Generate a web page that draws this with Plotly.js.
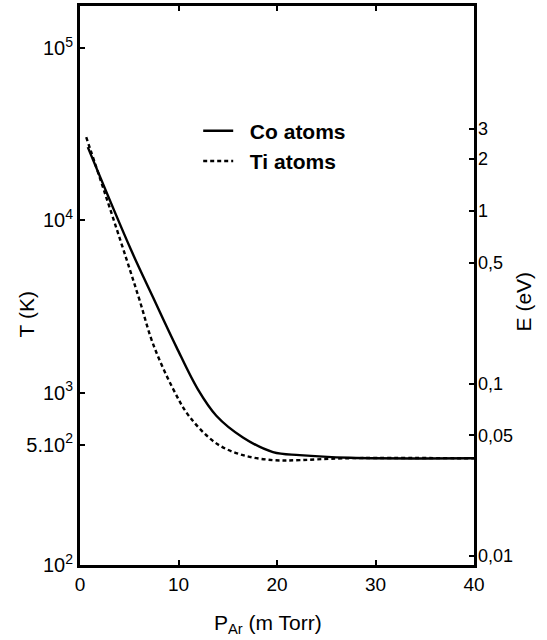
<!DOCTYPE html>
<html>
<head>
<meta charset="utf-8">
<script src="https://cdn.plot.ly/plotly-3.0.1.min.js"></script>
<style>html,body{margin:0;padding:0;background:#fff;}#chart{width:547px;height:640px;}</style>
</head>
<body>
<div id="chart"></div>
<script>
// Pressure (mTorr) and temperature (K)
const coP = [0.79, 5.2, 7.4, 9.78, 11.97, 13.84, 16.54, 19.59, 22.3, 27.39, 40];
const coT = [26600, 6700, 3590, 1845, 1045, 735, 550, 452, 434, 419, 416];
const tiP = [0.63, 2.49, 4.7, 6.05, 7.4, 9.43, 11.13, 13.84, 16.54, 19.59, 22.3, 26.71, 40];
const tiT = [30400, 14600, 6000, 3440, 1930, 1057, 724, 508, 434, 406, 406, 416, 416];

const xTicks = [0, 10, 20, 30, 40];
const tTickVals = [100, 500, 1000, 10000, 100000];
const tTickText = ['10<sup>2</sup>', '5.10<sup>2</sup>', '10<sup>3</sup>', '10<sup>4</sup>', '10<sup>5</sup>'];
const eTickVals = [0.01, 0.05, 0.1, 0.5, 1, 2, 3];
const eTickText = ['0,01', '0,05', '0,1', '0,5', '1', '2', '3'];
const seriesNames = ['Co atoms', 'Ti atoms'];

const FONT = 'Liberation Sans, Arial, sans-serif';

const traces = [
  {x: coP, y: coT, mode: 'lines', name: '\u00a0\u00a0' + seriesNames[0],
   line: {color: '#000', width: 2.4, shape: 'spline', smoothing: 1.0}},
  {x: tiP, y: tiT, mode: 'lines', name: '\u00a0\u00a0' + seriesNames[1],
   line: {color: '#000', width: 2.4, dash: '4px,3px', shape: 'spline', smoothing: 1.0}}
];

const layout = {
  width: 547, height: 640,
  margin: {l: 80, r: 73, t: 6, b: 75},
  paper_bgcolor: '#fff', plot_bgcolor: '#fff',
  font: {family: FONT, color: '#000'},
  showlegend: true,
  legend: {x: 0.30, y: 0.813, xanchor: 'left', yanchor: 'top',
           bgcolor: 'rgba(0,0,0,0)', itemwidth: 30,
           font: {size: 21, weight: 'bold', family: FONT}},
  xaxis: {range: [0, 40], tickvals: xTicks, ticktext: xTicks.map(String),
          ticks: 'inside', ticklen: 5, tickwidth: 2, tickcolor: '#000',
          showline: true, linewidth: 3, linecolor: '#000', mirror: 'ticks',
          showgrid: false, zeroline: false,
          tickfont: {size: 19, family: FONT}},
  yaxis: {type: 'log', range: [2, 5.244], tickvals: tTickVals, ticktext: tTickText,
          ticks: 'inside', ticklen: 5, tickwidth: 2, tickcolor: '#000',
          showline: true, linewidth: 3, linecolor: '#000',
          showgrid: false, zeroline: false, ticklabelstandoff: 0,
          tickfont: {size: 20, family: FONT}},
  yaxis2: {type: 'log', overlaying: 'y', side: 'right', range: [-2.052, 1.188],
           tickvals: eTickVals, ticktext: eTickText,
           ticks: 'inside', ticklen: 5, tickwidth: 2, tickcolor: '#000',
           showline: true, linewidth: 2.5, linecolor: '#000',
           showgrid: false, zeroline: false, ticklabelstandoff: -2,
           tickfont: {size: 18, family: FONT}},
  annotations: [
    {text: 'T (K)', xref: 'paper', yref: 'paper', x: -0.135, y: 0.448,
     xanchor: 'center', yanchor: 'middle',
     textangle: -90, showarrow: false, font: {size: 21, family: FONT}},
    {text: 'E (eV)', xref: 'paper', yref: 'paper', x: 1.125, y: 0.472,
     xanchor: 'center', yanchor: 'middle',
     textangle: -90, showarrow: false, font: {size: 21, family: FONT}},
    {text: 'P<sub>Ar</sub> (m Torr)', xref: 'paper', yref: 'paper', x: 0.478, y: -0.105,
     xanchor: 'center', yanchor: 'middle', showarrow: false, font: {size: 21, family: FONT}}
  ]
};

// invisible trace so the right axis is rendered
traces.push({x: [20], y: [0.1], yaxis: 'y2', mode: 'markers', opacity: 0,
             showlegend: false, hoverinfo: 'skip'});

Plotly.newPlot('chart', traces, layout, {displayModeBar: false, staticPlot: true});
</script>
</body>
</html>
